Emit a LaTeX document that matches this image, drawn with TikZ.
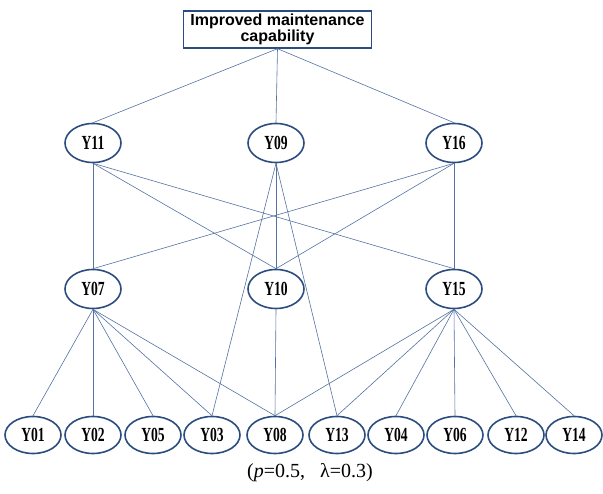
\documentclass[tikz,border=0pt]{standalone}
\usepackage{fontspec}
\setmainfont{Liberation Serif}
\newfontfamily\boxfont{Liberation Sans}
\newfontfamily\labfont[FakeStretch=0.68]{Liberation Serif}
\usetikzlibrary{shapes.geometric}
\definecolor{edgeblue}{RGB}{84,114,162}
\definecolor{nodeblue}{RGB}{42,76,126}
\begin{document}
\begin{tikzpicture}[x=1pt,y=-1pt,
  var/.style={ellipse, draw=nodeblue, line width=1.6pt, minimum width=56pt, minimum height=39pt, inner sep=0pt, font=\labfont\bfseries\fontsize{20}{20}\selectfont},
  leaf/.style={var, minimum height=37pt},
  link/.style={draw=edgeblue, line width=0.6pt}]
\useasboundingbox (0,0) rectangle (603,494);
\node[draw=nodeblue, line width=1.4pt, minimum width=188pt, minimum height=37pt, inner sep=0pt, align=center, font=\boxfont\bfseries\fontsize{16}{16}\selectfont] (top) at (277.5,29.5) {Improved maintenance\\capability};
% row 1
\node[var] (y11) at (93,143) {Y11};
\node[var] (y09) at (276,143) {Y09};
\node[var] (y16) at (454,143) {Y16};
% row 2
\node[var] (y07) at (93,289) {Y07};
\node[var] (y10) at (276,289) {Y10};
\node[var] (y15) at (454,289) {Y15};
% row 3
\node[leaf] (y01) at (33,435) {Y01};
\node[leaf] (y02) at (93,435) {Y02};
\node[leaf] (y05) at (153,435) {Y05};
\node[leaf] (y03) at (212,435) {Y03};
\node[leaf] (y08) at (275,435) {Y08};
\node[leaf] (y13) at (337,435) {Y13};
\node[leaf] (y04) at (396,435) {Y04};
\node[leaf] (y06) at (455,435) {Y06};
\node[leaf] (y12) at (516,435) {Y12};
\node[leaf] (y14) at (574,435) {Y14};
% caption
\node[font=\fontsize{20}{20}\selectfont, inner sep=0pt] (cap) at (310,473) {(\textit{p}=0.5,\ \ \ λ=0.3)};
% connectors
\foreach \n in {y11,y09,y16} \draw[link] (top.south) -- (\n.north);
\foreach \n in {y07,y10,y15} \draw[link] (y11.south) -- (\n.north);
\foreach \n in {y10,y03,y13} \draw[link] (y09.south) -- (\n.north);
\foreach \n in {y07,y10,y15} \draw[link] (y16.south) -- (\n.north);
\foreach \n in {y01,y02,y05,y03,y08} \draw[link] (y07.south) -- (\n.north);
\draw[link] (y10.south) -- (y08.north);
\foreach \n in {y08,y13,y04,y06,y12,y14} \draw[link] (y15.south) -- (\n.north);
\end{tikzpicture}
\end{document}
